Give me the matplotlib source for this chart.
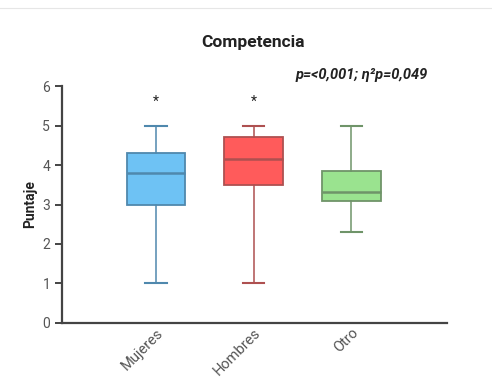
import matplotlib
matplotlib.use('Agg')
import matplotlib.pyplot as plt
from matplotlib.lines import Line2D

plt.rcParams['font.family'] = ['Roboto', 'DejaVu Sans']

# Data
groups = ['Mujeres', 'Hombres', 'Otro']
whislo = [1.0, 1.0, 2.3]
q1 = [3.0, 3.5, 3.1]
med = [3.8, 4.15, 3.32]
q3 = [4.3, 4.72, 3.85]
whishi = [5.0, 5.0, 5.0]
star_groups = ['Mujeres', 'Hombres']
star_y = 5.6

fills = ['#6EC2F4', '#FF5B5B', '#9AE38F']
edges = ['#4F88AD', '#AE5050', '#6F9469']

fig = plt.figure(figsize=(4.92, 3.83), dpi=100)
ax = fig.add_axes([0.126, 0.157, 0.783, 0.618])

stats = []
for i, g in enumerate(groups):
    stats.append({'label': g, 'whislo': whislo[i], 'q1': q1[i], 'med': med[i],
                  'q3': q3[i], 'whishi': whishi[i], 'fliers': []})

pos = list(range(len(groups)))
bp = ax.bxp(stats, positions=pos, widths=0.6, patch_artist=True,
            showfliers=False, capwidths=0.22)
for i in range(len(groups)):
    bp['boxes'][i].set_facecolor(fills[i])
    bp['boxes'][i].set_edgecolor(edges[i])
    bp['boxes'][i].set_linewidth(1.3)
    bp['medians'][i].set_color(edges[i])
    bp['medians'][i].set_linewidth(1.8)
    for j in (2 * i, 2 * i + 1):
        bp['whiskers'][j].set_color(edges[i])
        bp['whiskers'][j].set_linewidth(1.1)
        bp['caps'][j].set_color(edges[i])
        bp['caps'][j].set_linewidth(1.5)

for g in star_groups:
    ax.text(groups.index(g), star_y, '*', ha='center', va='center',
            fontsize=10, color='#222222')

ax.set_xlim(-0.96, 2.98)
ax.set_ylim(0, 6)
ax.set_yticks(range(0, 7))
ax.set_xticks(pos)
ax.set_xticklabels(groups, rotation=45, ha='right', rotation_mode='anchor')

for s in ['top', 'right']:
    ax.spines[s].set_visible(False)
for s in ['left', 'bottom']:
    ax.spines[s].set_color('#444444')
    ax.spines[s].set_linewidth(1.6)
ax.tick_params(axis='y', colors='#444444', labelcolor='#555555', labelsize=10,
               width=1.4, length=5)
ax.tick_params(axis='x', length=0, labelcolor='#555555', labelsize=10.5, pad=2)

ax.set_ylabel('Puntaje', fontsize=10, fontweight='bold', color='#222222')
fig.text(0.514, 0.888, 'Competencia', ha='center', va='center',
         fontsize=12.5, fontweight='bold', color='#222222')
fig.text(0.87, 0.804, 'p=<0,001; η²p=0,049', ha='right', va='center',
         fontsize=10.5, fontweight='bold', fontstyle='italic', color='#222222')

fig.add_artist(Line2D([0, 1], [0.978, 0.978], color='#e6e6e6', lw=0.8))

fig.savefig('out.png', dpi=100)
